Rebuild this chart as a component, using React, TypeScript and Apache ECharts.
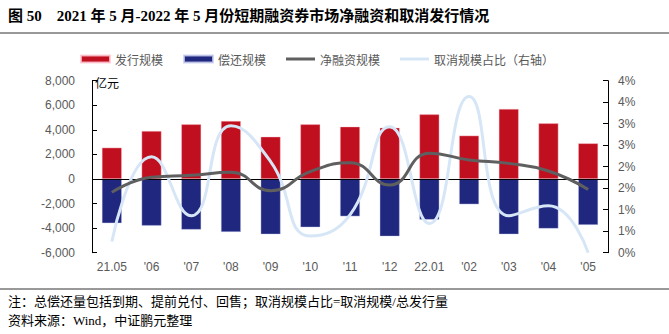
import React, { useEffect, useRef } from "react";
import * as echarts from "echarts";

const categories = ["21.05", "'06", "'07", "'08", "'09", "'10", "'11", "'12", "22.01", "'02", "'03", "'04", "'05"];
const issueValues = [2550, 3900, 4450, 4720, 3440, 4450, 4260, 4180, 5260, 3530, 5700, 4530, 2900];
const repayValues = [-3600, -3800, -4120, -4310, -4500, -3930, -3040, -4670, -3310, -2060, -4500, -4040, -3740];
const netValues = [-1090, 140, 300, 540, -950, 600, 1330, -490, 2100, 1550, 1270, 650, -850];
const cancelRatio = [0.26, 2.23, 0.86, 2.95, 2.12, 0.39, 0.88, 2.93, 0.68, 3.63, 0.86, 1.09, 0.0];

const seriesNames = ["发行规模", "偿还规模", "净融资规模", "取消规模占比（右轴）"];
const titleText = "图 50    2021 年 5 月-2022 年 5 月份短期融资券市场净融资和取消发行情况";
const noteText = "注：总偿还量包括到期、提前兑付、回售；取消规模占比=取消规模/总发行量";
const sourceText = "资料来源：Wind，中证鹏元整理";

export default function App() {
  const ref = useRef<HTMLDivElement>(null);
  useEffect(() => {
    if (!ref.current) return;
    const chart = echarts.init(ref.current, null, { renderer: "svg" });
    const labelColor = "#595959";
    const serifFont = "'Times New Roman', 'Liberation Serif', 'Noto Sans CJK SC', serif";
    const lineIcon = "path://M0,0 L29,0 L29,3 L0,3 Z";
    chart.setOption({
      animation: false,
      backgroundColor: "#ffffff",
      legend: {
        left: 75,
        top: 48,
        itemWidth: 29,
        itemHeight: 7,
        itemGap: 20,
        textStyle: { color: labelColor, fontSize: 12, fontFamily: "'Noto Sans CJK SC', sans-serif" },
        data: [
          { name: seriesNames[0], icon: "rect" },
          { name: seriesNames[1], icon: "rect" },
          { name: seriesNames[2], icon: lineIcon, itemStyle: { color: "#5F5F5F" } },
          { name: seriesNames[3], icon: lineIcon, itemStyle: { color: "#D6E6F6" } },
        ],
      },
      grid: { left: 92, right: 61, top: 80.7, bottom: 81.3, containLabel: false },
      xAxis: {
        type: "category",
        data: categories,
        axisLine: { show: false },
        axisTick: { show: false },
        axisLabel: { color: labelColor, fontSize: 12, margin: 8, fontFamily: "Arial, 'Liberation Sans', sans-serif" },
      },
      yAxis: [
        {
          type: "value",
          min: -6000,
          max: 8000,
          interval: 2000,
          splitLine: { show: false },
          axisLine: { show: true, lineStyle: { color: "#000", width: 1 } },
          axisTick: { show: true, inside: true, length: 5, lineStyle: { color: "#000" } },
          axisLabel: {
            color: labelColor,
            fontSize: 12,
            margin: 17,
            fontFamily: "Arial, 'Liberation Sans', sans-serif",
            formatter: (v: number) => (v === 0 ? "0" : v.toLocaleString("en-US")),
          },
        },
        {
          type: "value",
          min: 0,
          max: 4,
          interval: 0.5,
          position: "right",
          splitLine: { show: false },
          axisLine: { show: true, lineStyle: { color: "#000", width: 1 } },
          axisTick: { show: true, inside: true, length: 5, lineStyle: { color: "#000" } },
          axisLabel: {
            color: labelColor,
            fontSize: 12,
            margin: 10,
            fontFamily: "Arial, 'Liberation Sans', sans-serif",
            formatter: (v: number) => Math.round(v) + "%",
          },
        },
      ],
      series: [
        {
          name: seriesNames[0],
          type: "bar",
          stack: "s",
          barWidth: "50%",
          data: issueValues,
          itemStyle: { color: "#C01020", borderColor: "rgba(255,200,210,0.8)", borderWidth: 0.5 },
          markLine: {
            silent: true,
            symbol: "none",
            label: { show: false },
            lineStyle: { color: "#000", width: 1.2, type: "solid" },
            data: [{ yAxis: 0 }],
            z: 3,
          },
        },
        {
          name: seriesNames[1],
          type: "bar",
          stack: "s",
          barWidth: "50%",
          data: repayValues,
          itemStyle: { color: "#1F287E", borderColor: "rgba(200,205,240,0.8)", borderWidth: 0.5 },
        },
        {
          name: seriesNames[3],
          type: "line",
          yAxisIndex: 1,
          smooth: 0.5,
          symbol: "none",
          data: cancelRatio,
          lineStyle: { color: "#D6E6F6", width: 3 },
          itemStyle: { color: "#D6E6F6" },
          z: 4,
        },
        {
          name: seriesNames[2],
          type: "line",
          smooth: 0.5,
          symbol: "none",
          data: netValues,
          lineStyle: { color: "#5F5F5F", width: 3 },
          itemStyle: { color: "#5F5F5F" },
          z: 5,
        },
      ],
      graphic: [
        {
          type: "text",
          left: 8,
          top: 8,
          style: {
            text: titleText,
            fontSize: 15,
            fontWeight: "bold",
            fill: "#000",
            fontFamily: serifFont,
          },
        },
        {
          type: "line",
          shape: { x1: 0, y1: 33, x2: 669, y2: 33 },
          style: { stroke: "#333", lineWidth: 1 },
        },
        {
          type: "text",
          x: 95,
          y: 76,
          style: { text: "亿元", fontSize: 12, fill: "#000", fontFamily: "'Noto Sans CJK SC', sans-serif" },
        },
        {
          type: "line",
          shape: { x1: 0, y1: 289, x2: 669, y2: 289 },
          style: { stroke: "#333", lineWidth: 1 },
        },
        {
          type: "text",
          left: 8,
          top: 295,
          style: { text: noteText, fontSize: 13, fill: "#000", fontFamily: serifFont },
        },
        {
          type: "text",
          left: 8,
          top: 314,
          style: { text: sourceText, fontSize: 13, fill: "#000", fontFamily: serifFont },
        },
      ],
    });
    return () => chart.dispose();
  }, []);
  return <div ref={ref} style={{ width: 669, height: 334, position: "absolute", left: 0, top: 0 }} />;
}
